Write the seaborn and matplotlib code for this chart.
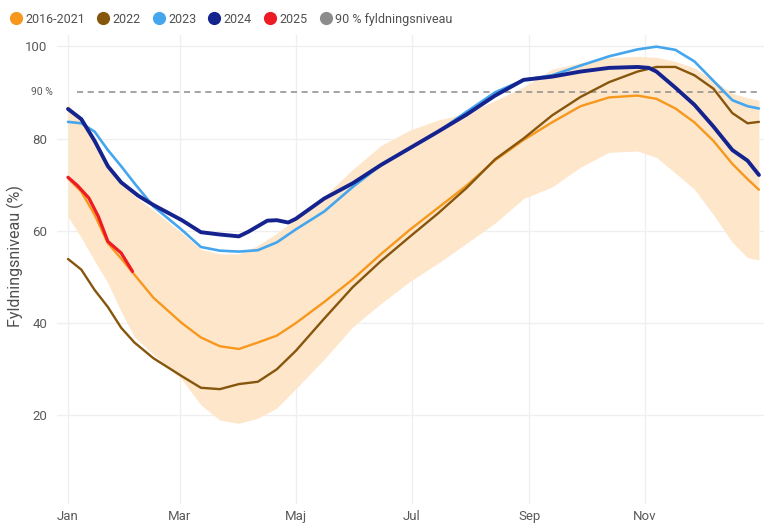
import numpy as np
import pandas as pd
import matplotlib
matplotlib.use("Agg")
import matplotlib.pyplot as plt
from matplotlib.lines import Line2D
import matplotlib.transforms as mtransforms
import seaborn as sns

# ---------------- data ----------------
days = [0, 7, 14, 21, 28, 35, 45, 60, 70, 80, 90, 100, 110, 120, 135, 150, 165,
        180, 195, 210, 225, 240, 255, 270, 285, 300, 310, 320, 330, 340, 350, 358, 364]

median_16_21 = [71.4, 68.5, 63.5, 57.3, 54.0, 50.5, 45.5, 40.0, 36.9, 35.0, 34.4, 35.8,
                37.3, 40.0, 44.6, 49.5, 55.0, 60.2, 65.0, 69.8, 75.3, 79.7, 83.5, 87.0,
                88.9, 89.3, 88.6, 86.5, 83.5, 79.5, 74.5, 71.2, 68.9]
band_upper = [87.5, 84.0, 79.0, 74.0, 70.5, 67.5, 64.5, 59.5, 56.0, 55.0, 55.0, 56.8,
              59.5, 62.5, 67.5, 73.3, 78.5, 81.8, 84.0, 85.5, 88.2, 91.2, 95.0, 96.4,
              97.5, 97.8, 97.6, 96.7, 95.3, 92.6, 89.8, 88.8, 88.3]
band_lower = [63.1, 58.5, 53.5, 48.7, 42.5, 37.0, 33.2, 27.8, 22.3, 19.0, 18.3, 19.4,
              21.6, 25.8, 32.2, 39.2, 44.3, 49.0, 53.0, 57.3, 61.7, 67.0, 69.5, 73.8,
              77.0, 77.3, 75.9, 72.5, 69.0, 63.5, 57.5, 54.2, 53.7]
y2022 = [53.9, 51.6, 47.2, 43.5, 39.0, 35.8, 32.4, 28.5, 26.0, 25.7, 26.8, 27.3,
         30.0, 34.0, 41.0, 47.8, 53.5, 58.7, 63.8, 69.3, 75.5, 80.0, 85.0, 89.0,
         92.2, 94.5, 95.5, 95.5, 93.7, 90.8, 85.5, 83.3, 83.6]
y2023 = [83.6, 83.3, 81.5, 77.5, 74.0, 70.3, 65.3, 60.2, 56.5, 55.7, 55.5, 55.8,
         57.5, 60.3, 64.2, 69.5, 74.3, 77.8, 81.5, 85.8, 90.0, 92.7, 93.7, 95.8,
         97.8, 99.3, 99.9, 99.2, 96.7, 92.5, 88.3, 87.0, 86.5]

days_2024 = [0, 7, 14, 21, 28, 37, 45, 60, 70, 80, 90, 95, 100, 105, 110, 116, 120,
             135, 150, 165, 180, 195, 210, 225, 240, 255, 270, 285, 300, 306, 310,
             320, 330, 340, 350, 358, 364]
y2024 = [86.4, 84.2, 79.5, 74.0, 70.5, 67.6, 65.6, 62.3, 59.7, 59.2, 58.8, 59.8, 61.0,
         62.2, 62.3, 61.8, 62.6, 67.0, 70.3, 74.3, 77.9, 81.5, 85.2, 89.3, 92.7, 93.4,
         94.5, 95.3, 95.5, 95.3, 94.5, 91.0, 87.3, 82.6, 77.5, 75.2, 72.1]

days_2025 = [0, 5, 11, 16, 21, 28, 34]
y2025 = [71.6, 69.8, 67.1, 63.1, 57.7, 55.2, 51.2]

month_ticks = [0, 59, 120, 181, 243, 304]
month_labels = ["Jan", "Mar", "Maj", "Jul", "Sep", "Nov"]
y_ticks = [20, 40, 60, 80, 100]
target_level = 90

series_names = ["2016-2021", "2022", "2023", "2024", "2025", "90 % fyldningsniveau"]
colors = {"2016-2021": "#F7971C", "2022": "#86560C", "2023": "#45A6EE",
          "2024": "#15238E", "2025": "#EC1B24", "90 % fyldningsniveau": "#8C8C8C"}
band_color = "#FEE6CB"

# ---------------- style ----------------
sns.set_theme(style="white")
plt.rcParams["font.family"] = ["Roboto", "DejaVu Sans"]

fig = plt.figure(figsize=(7.64, 5.24), dpi=100)
ax = fig.add_axes([0.0746, 0.038, 0.925, 0.895])

df = pd.concat([
    pd.DataFrame({"day": days, "value": median_16_21, "serie": "2016-2021"}),
    pd.DataFrame({"day": days, "value": y2022, "serie": "2022"}),
    pd.DataFrame({"day": days, "value": y2023, "serie": "2023"}),
    pd.DataFrame({"day": days_2024, "value": y2024, "serie": "2024"}),
    pd.DataFrame({"day": days_2025, "value": y2025, "serie": "2025"}),
])

ax.fill_between(days, band_lower, band_upper, color=band_color, lw=0, zorder=1)
ax.hlines(target_level, days[0] + 5, days[-1], colors=colors["90 % fyldningsniveau"],
          linestyles=(0, (4, 3)), lw=1.1, zorder=2)

widths = {"2016-2021": 1.7, "2022": 1.7, "2023": 1.9, "2024": 2.8, "2025": 2.3}
for name in ["2016-2021", "2022", "2023", "2024", "2025"]:
    sub = df[df["serie"] == name]
    sns.lineplot(data=sub, x="day", y="value", color=colors[name], lw=widths[name],
                 ax=ax, zorder=3, legend=False)

ax.set_xlim(-5.8, 366.5)
ax.set_ylim(0.8, 102.4)
ax.set_xticks(month_ticks)
ax.set_xticklabels(month_labels)
ax.set_yticks(y_ticks)
ax.grid(True, color="#EFEFEF", lw=0.9)
ax.set_axisbelow(True)
for s in ax.spines.values():
    s.set_visible(False)
ax.tick_params(axis="both", length=0, labelsize=9.5, labelcolor="#5A5A5A")
ax.tick_params(axis="x", pad=4)
ax.tick_params(axis="y", pad=7)
ax.set_xlabel("")
ax.set_ylabel("Fyldningsniveau (%)", fontsize=11.5, color="#505050")
ax.yaxis.set_label_coords(-0.046, 0.53)

trans = mtransforms.blended_transform_factory(ax.transAxes, ax.transData)
ax.text(-0.006, target_level, "90 %", transform=trans, ha="right", va="center",
        fontsize=7.5, color="#5A5A5A")

handles = [Line2D([0], [0], marker="o", color="none", markerfacecolor=colors[n],
                  markeredgecolor="none", markersize=9.5) for n in series_names]
fig.legend(handles, series_names, loc="upper left", bbox_to_anchor=(-0.004, 0.997),
           ncol=6, frameon=False, fontsize=9, handletextpad=0.15,
           columnspacing=0.85, handlelength=1.2, labelcolor="#505050")

fig.savefig("out.png", dpi=100, facecolor="white")
